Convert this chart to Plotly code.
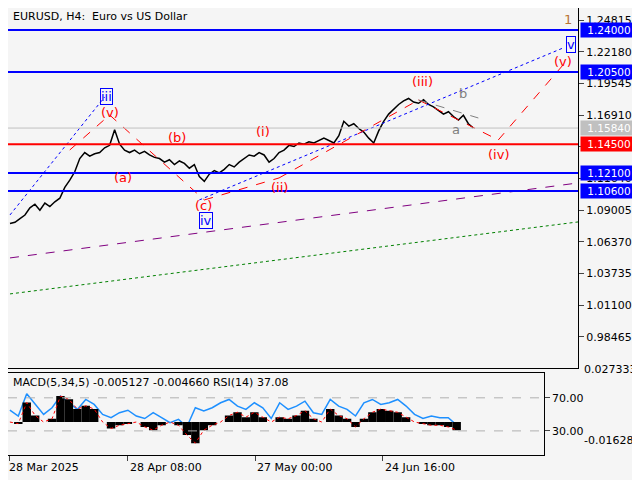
import plotly.graph_objects as go
from plotly.subplots import make_subplots

# price closes, one per 5 bars
close = [1.0790, 1.0800, 1.0830, 1.0860, 1.0920, 1.0950, 1.0900, 1.0960, 1.0930, 1.0970,
         1.1000, 1.1090, 1.1150, 1.1220, 1.1330, 1.1380, 1.1350, 1.1370, 1.1380, 1.1420,
         1.1440, 1.1570, 1.1450, 1.1400, 1.1380, 1.1400, 1.1370, 1.1390, 1.1360, 1.1340,
         1.1330, 1.1300, 1.1320, 1.1280, 1.1310, 1.1290, 1.1250, 1.1280, 1.1180, 1.1140,
         1.1200, 1.1230, 1.1210, 1.1240, 1.1280, 1.1260, 1.1300, 1.1330, 1.1360, 1.1350,
         1.1380, 1.1360, 1.1300, 1.1330, 1.1380, 1.1400, 1.1440, 1.1430, 1.1460, 1.1450,
         1.1470, 1.1460, 1.1480, 1.1500, 1.1480, 1.1460, 1.1520, 1.1640, 1.1600, 1.1620,
         1.1580, 1.1550, 1.1500, 1.1460, 1.1560, 1.1640, 1.1700, 1.1740, 1.1780, 1.1810,
         1.1830, 1.1800, 1.1790, 1.1820, 1.1780, 1.1760, 1.1730, 1.1700, 1.1720, 1.1680,
         1.1650, 1.1690, 1.1620, 1.1584]
rsi = [55, 48, 75, 62, 50, 58, 72, 64, 56, 68, 62, 50, 46, 52, 55, 48, 45, 52, 46, 40,
       44, 35, 58, 54, 58, 64, 68, 60, 56, 64, 58, 45, 64, 56, 60, 66, 52, 50, 68, 60,
       56, 48, 64, 68, 62, 64, 68, 60, 50, 45, 48, 46, 46, 37]
macd = [0, -1, 12, 4, 0, 2, 16, 14, 8, 10, 8, 0, -4, -2, -1, 0, -3, -5, -2, 0,
        -2, -8, -13, -5, -2, 0, 4, 6, 3, 6, 3, 0, 3, 2, 4, 7, 2, 0, 8, 4,
        2, -3, 2, 6, 8, 7, 6, 3, 0, -1, -2, -2, -3, -5]
levels_blue = [1.24, 1.205, 1.121, 1.106]
level_red = 1.145
last_price = 1.1584
tick_vals = [1.24815, 1.22180, 1.19545, 1.16910, 1.14275, 1.11640, 1.09005, 1.06370,
             1.03735, 1.01100, 0.98465]
date_ticks = [0, 126, 262, 398]
date_labels = ["28 Mar 2025", "28 Apr 08:00", "27 May 00:00", "24 Jun 16:00"]

XMAX = 570
fig = make_subplots(rows=2, cols=1, specs=[[{}], [{"secondary_y": True}]])
fig.update_layout(
    width=640, height=480, margin=dict(l=0, r=70, t=0, b=30),
    paper_bgcolor="#f5f5f5", plot_bgcolor="#f5f5f5", showlegend=False,
    font=dict(family="DejaVu Sans", size=11, color="black"),
    xaxis=dict(domain=[0, 1], range=[-2, XMAX], showticklabels=False, showgrid=False,
               zeroline=False, showline=True, mirror=True, linecolor="black"),
    yaxis=dict(domain=[0.2, 1.0], range=[0.9587, 1.2583], side="right",
               tickvals=tick_vals, ticks="outside", tickformat=".5f", showgrid=False,
               zeroline=False, showline=True, mirror=True, linecolor="black"),
    xaxis2=dict(range=[-2, XMAX], tickvals=date_ticks, ticks="outside", showticklabels=False,
                showgrid=False, zeroline=False, showline=True, mirror=True, linecolor="black"),
    yaxis2=dict(domain=[0.0067, 0.1889], range=[0.9, 100], side="right", tickvals=[70, 30],
                ticktext=["70.00", "30.00"], ticks="outside", showgrid=False, zeroline=False,
                showline=True, mirror=True, linecolor="black"),
    yaxis3=dict(range=[-0.0203, 0.0302], showticklabels=False, showgrid=False, zeroline=False,
                overlaying="y2", side="right"),
)

xs = [i * 5 for i in range(len(close))]
fig.add_trace(go.Scatter(x=xs, y=close, mode="lines", line=dict(color="black", width=1.5)), 1, 1)

for lv in levels_blue:
    fig.add_hline(y=lv, line=dict(color="#0000ff", width=2), row=1, col=1)
fig.add_hline(y=level_red, line=dict(color="red", width=2), row=1, col=1)
fig.add_hline(y=last_price, line=dict(color="#c0c0c0", width=1), row=1, col=1)


def py(px):
    return 1.24 - (px - 30) * 0.000832


def seg(x0, y0, x1, y1, color, dash):
    fig.add_trace(go.Scatter(x=[x0, x1], y=[py(y0), py(y1)], mode="lines",
                             line=dict(color=color, width=1, dash=dash)), 1, 1)


seg(0, 215, 95, 97, "#0000ff", "dot")
seg(190, 200, 555, 48, "#0000ff", "dot")
seg(0, 258, 570, 183, "#800080", "dash")
seg(0, 294, 570, 222, "green", "dot")
for a, b in [((100, 115), (195, 200)), ((195, 200), (270, 178)), ((270, 178), (410, 100)),
             ((410, 100), (490, 140)), ((490, 140), (555, 65)), ((60, 150), (100, 115))]:
    seg(a[0], a[1], b[0], b[1], "red", "dash")
seg(410, 100, 470, 118, "gray", "dash")

labels = [("iii", 97, 97, "#0000ff", True), ("iv", 197, 221, "#0000ff", True),
          ("v", 563, 45, "#0000ff", True), ("1", 560, 20, "#b87333", False),
          ("(v)", 100, 113, "red", False), ("(a)", 113, 178, "red", False),
          ("(b)", 168, 138, "red", False), ("(c)", 194, 206, "red", False),
          ("(i)", 254, 132, "red", False), ("(ii)", 270, 188, "red", False),
          ("(iii)", 414, 82, "red", False), ("(iv)", 490, 155, "red", False),
          ("(v)", 555, 62, "red", False), ("a", 448, 130, "gray", False),
          ("b", 455, 94, "gray", False)]
for t, x, y, c, circ in labels:
    fig.add_annotation(x=x, y=py(y), text=t, showarrow=False, xref="x", yref="y",
                       font=dict(size=13, color=c), bgcolor="rgba(0,0,0,0)",
                       bordercolor=c if circ else "rgba(0,0,0,0)", borderpad=0,
                       borderwidth=1 if circ else 0)

tags = [(1.24, "1.24000", "#0000ff", "white"), (1.205, "1.20500", "#0000ff", "white"),
        (1.1584, "1.15840", "#c0c0c0", "white"), (1.145, "1.14500", "red", "white"),
        (1.121, "1.12100", "#0000ff", "white"), (1.106, "1.10600", "#0000ff", "white")]
for v, t, bg, fc in tags:
    fig.add_annotation(x=1.0, xref="paper", xanchor="left", xshift=2, y=v, yref="y", text=t,
                       showarrow=False, bgcolor=bg, font=dict(color=fc, size=10.5), width=54,
                       borderpad=1)

for i, (tv, tl) in enumerate(zip(date_ticks, date_labels)):
    fig.add_annotation(x=tv, xref="x2", xanchor="left", y=0, yref="paper", yanchor="top",
                       yshift=-1, xshift=-3 if i == 0 else 0, text=tl, showarrow=False)

mx = [i * 9 for i in range(len(macd))]
fig.add_trace(go.Bar(x=mx, y=[m / 1000 for m in macd], marker_color="black", width=9,
                     marker_line_width=0), 2, 1, secondary_y=True)
fig.add_trace(go.Scatter(x=mx, y=[m / 1000 for m in macd], mode="lines",
                         line=dict(color="red", width=1, dash="dot")), 2, 1, secondary_y=True)
fig.add_trace(go.Scatter(x=mx, y=rsi, mode="lines", line=dict(color="#1e90ff", width=1.5)), 2, 1)
fig.add_hline(y=70, line=dict(color="#b0b0b0", width=1, dash="dash"), row=2, col=1)
fig.add_hline(y=30, line=dict(color="#b0b0b0", width=1, dash="dash"), row=2, col=1)

fig.add_annotation(x=0.005, xref="paper", y=0.186, yref="paper", yanchor="top", xanchor="left",
                   text="MACD(5,34,5) -0.005127 -0.004660 RSI(14) 37.08", showarrow=False)
fig.add_annotation(x=1.0, xref="paper", xanchor="left", xshift=4, y=0.178, yref="paper",
                   text="0.027333", showarrow=False)
fig.add_annotation(x=1.0, xref="paper", xanchor="left", xshift=4, y=0.02, yref="paper",
                   text="-0.016283", showarrow=False)
fig.add_annotation(x=0.005, xref="paper", y=1.0, yref="paper", yanchor="top", xanchor="left",
                   text="EURUSD, H4:  Euro vs US Dollar", showarrow=False)

fig.write_html("out.html")
